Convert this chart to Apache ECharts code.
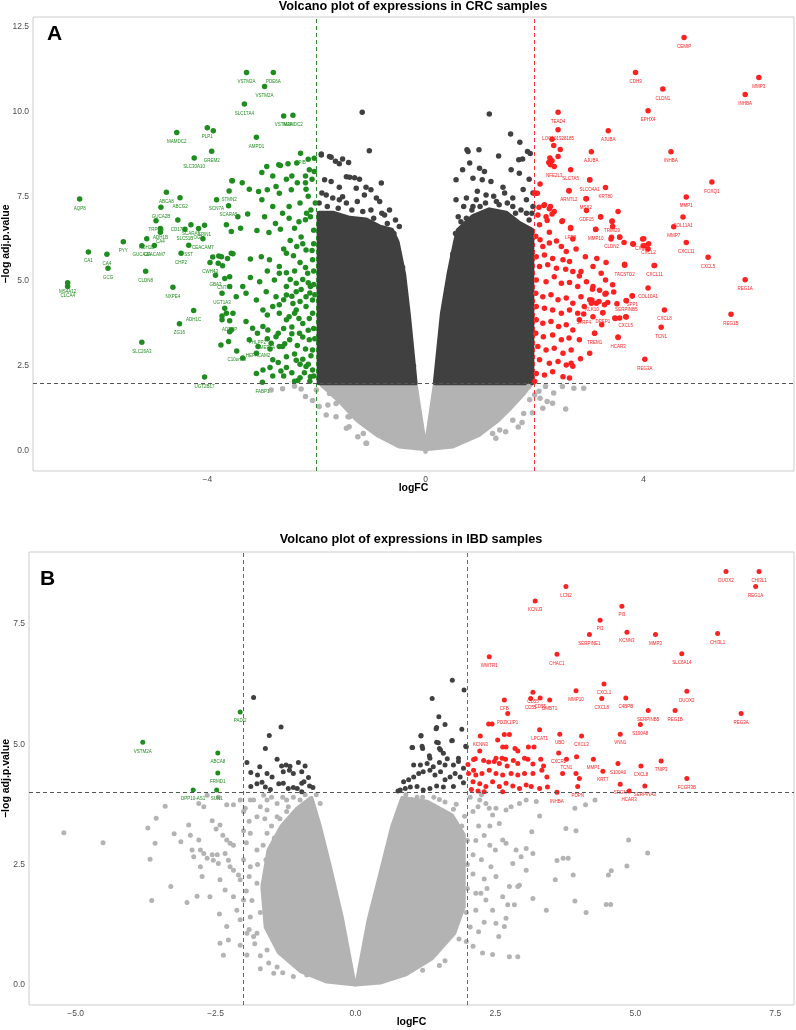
<!DOCTYPE html>
<html>
<head>
<meta charset="utf-8">
<script src="https://cdn.jsdelivr.net/npm/echarts@6/dist/echarts.min.js"></script>
<style>
  html, body { margin: 0; padding: 0; background: #fff; }
  #main { width: 796px; height: 1030px; }
</style>
</head>
<body>
<div id="main"></div>
<script>
// volcano plots, CRC (top) and IBD (bottom)
var FONT = '"Liberation Sans", Arial, sans-serif';

var xTicksA = [-4, 0, 4];
var yTicksA = [0, 2.5, 5, 7.5, 10, 12.5];
var xTicksB = [-5, -2.5, 0, 2.5, 5, 7.5];
var yTicksB = [0, 2.5, 5, 7.5];
var fcCut = 2;
var pCutA = 2;
var pCutB = 4;

// CRC: dense cores of the point cloud (outline of the solid area)
var crcNsArea = [[-1.9,1.95],[-0.19,1.95],[0.0,-0.02],[0.18,1.95],[1.92,1.95],[1.8,1.7],[1.57,1.3],[1.32,0.9],[0.97,0.47],[0.5,0.14],[0.0,0.06],[-0.48,0.14],[-0.88,0.47],[-1.24,0.9],[-1.53,1.4],[-1.78,1.78]];
var crcMidLeftArea = [[-1.95,2.0],[-1.95,7.0],[-1.7,7.0],[-1.39,6.85],[-1.09,6.8],[-0.85,6.6],[-0.62,6.5],[-0.52,6.15],[-0.4,5.2],[-0.31,3.95],[-0.19,2.0]];
var crcMidRightArea = [[0.18,2.0],[0.31,4.05],[0.43,5.2],[0.55,6.15],[0.6,6.5],[0.87,6.9],[1.17,7.1],[1.48,7.0],[1.72,6.7],[1.95,6.5],[1.95,2.0]];

var crcNsPts = [[-2.83,1.79],[-2.62,1.83],[-2.28,1.82],[-2.07,1.48],[-1.82,1.05],[-1.42,1.0],[-1.08,0.22],[-1.14,0.51],[-1.76,1.69],[-2.0,1.79],[-1.64,1.39],[-1.4,0.71],
  [2.9,1.84],[2.72,1.84],[2.57,1.23],[2.33,1.4],[2.23,1.45],[2.08,1.75],[2.0,1.65],[1.96,1.12],[1.77,0.83],[1.89,1.89],[2.51,1.89],[2.2,1.89],[1.47,0.56],[1.29,0.37],
  [-1.79,1.35],[-1.64,1.0],[-1.45,0.66],[-1.24,0.41],[-1.09,0.22],[-1.39,1.0],[1.66,1.5],[1.6,0.9],[1.36,0.61],[1.23,0.51],[1.78,1.8],[1.91,1.5],
  [-2.2,1.6],[-1.95,1.3],[-2.4,1.9],[2.1,1.55],[2.35,1.7],[2.15,1.25],[1.8,1.1],[1.7,0.7]];

var crcMidPts = [[-1.16,9.98],[-1.03,8.84],[-1.91,8.72],[-1.73,8.65],[-1.65,8.53],[-1.52,8.6],[-1.41,8.5],[-1.58,8.46],[-1.85,7.99],[-1.73,7.94],[-1.39,8.06],[-1.21,8.0],
  [-1.27,7.74],[-1.09,7.77],[-1.0,7.69],[-0.81,7.89],[-1.12,7.54],[-0.9,7.45],[-0.84,7.35],[-1.52,7.49],[-1.58,7.4],[-1.82,7.54],[-1.58,7.77],[-0.66,7.1],[-0.75,6.95],[-0.48,6.61],
  [-1.45,8.08],[-1.3,8.05],[-1.91,8.75],[-1.76,8.67],
  [1.17,9.93],[1.56,9.34],[1.73,9.09],[1.87,8.82],[1.92,8.76],[0.76,8.87],[0.78,8.82],[0.98,8.87],[1.34,8.69],[0.81,8.48],[0.68,8.28],[0.99,8.33],[1.08,8.23],[1.57,8.28],
  [1.72,8.18],[1.71,8.58],[1.78,8.6],[0.87,8.03],[1.04,7.99],[1.2,7.94],[1.42,7.77],[0.56,7.99],[0.56,7.4],[0.75,7.45],[0.93,7.4],[1.11,7.54],[1.3,7.35],[1.6,7.45],[1.85,7.4],
  [1.97,7.2],[1.6,7.2],[0.87,7.2],[1.79,7.7],
  [-1.95,7.3],[-1.8,7.2],[-1.6,7.15],[-1.35,7.1],[-1.15,7.05],[-0.95,6.85],[-0.7,6.7],[-0.58,6.4],[-0.5,5.9],[-0.42,5.4],[0.5,5.8],[0.55,6.4],[0.65,6.75],[0.85,7.1],
  [1.1,7.3],[1.35,7.25],[1.65,7.0],[1.9,6.8],[1.97,7.6],[1.9,8.0],[0.6,6.9],[-0.55,6.8],
  [-1.9,7.6],[-1.7,7.45],[-1.45,7.3],[-1.25,7.35],[-1.0,7.1],[-0.8,7.0],[-0.65,6.3],[-0.55,5.6],[-0.47,4.9],[-0.4,4.3],[-0.33,3.6],[-0.28,3.0],[-0.22,2.5],
  [0.28,3.0],[0.36,3.7],[0.45,4.5],[0.5,5.3],[0.62,6.1],[0.75,6.85],[1.0,7.2],[1.25,7.5],[1.5,7.3],[1.75,7.1],[1.85,7.0],[1.95,7.0],[1.45,7.6],[0.95,7.65],[0.7,7.2]];

var crcDown = [[-3.28,11.15,'VSTM2A'],[-2.79,11.15,'PDE6A'],[-2.95,10.74,'VSTM2A'],[-3.32,10.22,'SLC17A4'],[-2.6,9.87,'VSTM2A'],[-2.43,9.89,'MAMDC2'],
  [-4.56,9.38,'MAMDC2'],[-4.0,9.52,'PLP1'],[-3.89,9.43],[-3.1,9.24,'AMPD1'],[-3.92,8.83,'GREM2'],[-4.24,8.63,'SLC30A10'],
  [-6.34,7.42,'AQP8'],[-4.75,7.62,'ABCA8'],[-4.5,7.46,'ABCG2'],[-4.85,7.18,'GUCA2B'],[-4.54,6.8,'CD177'],[-3.83,7.4,'SCN7A'],[-3.6,7.66,'STMN2'],[-3.61,7.22,'SCARA5'],
  [-4.94,6.78,'TRPM6'],[-4.86,6.55,'ADH1B'],[-4.86,6.44,'CA4'],[-5.11,6.25,'ADH1B'],[-5.2,6.04,'GUCA2A'],[-4.97,6.05,'CEACAM7'],
  [-5.54,6.16,'PYY'],[-6.18,5.86,'CA1'],[-5.84,5.79,'CA4'],[-5.82,5.38,'GCG'],[-5.13,5.29,'CLDN8'],[-6.56,4.95,'MS4A12'],[-6.56,4.84,'CLCA4'],
  [-4.63,4.82,'NXPE4'],[-4.25,4.13,'ADH1C'],[-4.51,3.74,'ZG16'],[-5.2,3.2,'SLC26A3'],[-4.05,2.17,'UGT2B17'],
  [-4.41,6.53,'SLC51B'],[-4.3,6.66,'SCARA5'],[-4.16,6.55,'OGN'],[-4.05,6.65,'SPIN1'],[-4.34,6.06,'SST'],[-4.48,5.82,'CHP2'],[-4.08,6.25,'CEACAM7'],[-3.95,5.55,'CWH43'],[-3.85,5.17,'GBA3'],
  [-2.29,8.77,'SPIB'],[-2.04,8.62],[-2.91,8.38],[-2.69,8.43],[-2.52,8.46],[-2.36,8.48],[-2.13,8.28],[-2.04,8.23],[-2.15,8.59],[-2.66,8.41],
  [-3.54,7.96],[-3.36,7.9],[-3.23,7.71],[-3.06,7.64],[-2.9,7.69],[-2.74,7.79],[-2.68,7.59],[-2.46,7.69],[-2.19,7.71],
  [-3.44,6.9],[-3.26,6.98],[-3.39,6.56],[-3.56,6.46],[-3.65,6.66],[-3.09,6.49],[-2.87,6.43],[-2.66,6.53],[-2.4,6.56],[-2.2,6.81],[-2.11,6.9],
  [-3.9,5.71],[-3.79,5.74],[-3.72,5.45],[-3.56,5.82],[-3.21,5.65],[-3.01,5.72],[-2.86,5.63],[-2.68,5.43],[-2.55,5.82],[-2.36,6.02],[-2.19,5.92],[-2.07,5.63],
  [-3.59,5.13],[-3.35,4.84],[-3.21,5.11],[-3.04,4.98],[-2.77,5.03],[-2.68,5.23],[-2.55,4.84],[-2.37,4.94],[-2.16,5.23],[-2.11,4.84],
  [-3.47,4.54],[-3.29,4.64],[-3.1,4.44],[-2.92,4.69],[-2.74,4.54],[-2.55,4.59],[-2.37,4.69],[-2.19,4.54],[-2.07,4.44],[-2.43,4.34],[-2.68,4.3],
  [-3.68,4.2],[-3.53,4.05],[-3.73,3.86],[-3.29,3.81],[-2.98,4.15],[-2.8,4.25],[-2.68,4.05],[-2.55,3.86],[-2.37,4.15],[-2.19,4.25],[-2.07,4.05],
  [-3.59,3.51],[-3.23,3.27],[-2.89,3.56],[-2.74,3.36],[-2.49,3.27],[-2.31,3.46],[-2.13,3.27],[-2.07,2.97],
  [-3.61,3.22],[-3.35,2.73],[-3.1,2.87],[-2.68,3.07],[-2.55,2.77],[-2.37,2.67],[-2.19,2.48],[-2.07,2.38],
  [-2.99,2.02,'FABP1'],[-2.34,2.07],[-2.11,2.18],[-2.12,2.05],
  [-2.3,7.3],[-2.15,7.5],[-2.5,7.2],[-2.62,7.0],[-2.28,6.3],[-2.48,6.2],[-2.6,5.95],[-2.2,5.4],[-2.4,5.3],[-2.55,5.25],[-2.25,5.05],[-2.9,5.3],[-2.3,4.4],[-2.45,4.55],
  [-2.12,4.65],[-2.6,4.45],[-2.9,4.0],[-2.45,3.65],[-2.25,3.75],[-2.6,3.6],[-2.15,3.55],[-2.35,3.1],[-2.2,3.0],[-2.58,3.15],[-2.85,3.0],[-2.4,2.85],[-2.25,2.7],[-2.55,2.45],
  [-2.15,2.55],[-2.45,2.3],[-2.3,2.15],[-2.7,2.6],[-2.05,3.6],[-2.05,4.9],[-2.05,6.1],[-2.1,7.1],[-2.35,7.9],[-2.55,8.0],[-2.08,8.0],[-2.2,8.1],
  [-3.55,7.96],[-3.8,5.53],[-3.74,5.72],[-3.63,5.67],[-3.53,5.81],[-3.68,5.08,'CNTN1'],[-3.59,4.84],[-3.73,4.64,'UGT1A3'],[-3.65,4.05],[-3.73,3.97],[-3.59,3.83,'ADTRP'],
  [-3.56,3.56],[-3.75,3.12],[-3.46,2.94,'C10orf99'],[-3.08,3.46,'PHLPP2'],[-2.9,3.3,'MEP1A'],[-2.83,3.17],[-2.7,3.46],[-2.62,3.07],[-2.98,3.66],[-3.17,3.61],
  [-3.07,3.07,'HEPACAM2'],[-2.8,2.68],[-3.1,2.28],[-2.98,2.38],
  [-2.02,7.3],[-2.18,7.0],[-2.32,6.75],[-2.05,6.5],[-2.25,6.1],[-2.42,5.75],[-2.08,5.9],[-2.3,5.55],[-2.05,5.3],[-2.48,5.05],[-2.15,4.95],[-2.28,4.75],[-2.03,4.6],
  [-2.4,4.05],[-2.13,3.9],[-2.32,3.9],[-2.5,3.95],[-2.03,3.3],[-2.25,3.35],[-2.45,3.45],[-2.1,2.8],[-2.3,2.55],[-2.05,2.2],[-2.22,2.3],[-2.6,2.2],[-2.4,2.05],[-2.8,2.2],
  [-2.65,2.35],[-2.85,2.45],[-2.5,6.85],[-2.75,6.7],[-2.95,6.9],[-2.8,7.2],[-3.0,7.4],[-2.2,7.9],[-2.45,8.1],[-2.8,8.1],[-3.0,8.2]];

var crcUp = [[4.74,12.18,'CEMIP'],[3.85,11.15,'CDH3'],[6.11,11.0,'MMP3'],[4.35,10.66,'CLDN1'],[5.86,10.5,'INHBA'],[4.08,10.02,'EPHX4'],[2.43,9.98,'TEAD4'],
  [2.43,9.46,'LOC101928185'],[3.35,9.43,'AJUBA'],[2.32,9.18],[2.35,9.0],[2.47,8.88],[3.04,8.81,'AJUBA'],[4.5,8.81,'INHBA'],[2.28,8.63],[2.32,8.55],[2.26,8.5],[2.43,8.67],
  [2.29,8.43],[2.36,8.38,'NFE2L3'],[2.66,8.28,'SLC7A5'],[3.01,7.98,'SLCO4A1'],[2.63,7.66,'ARNTL2'],[3.3,7.76,'KRT80'],[5.25,7.92,'FOXQ1'],[2.94,7.43,'MSX2'],
  [4.78,7.48,'MMP1'],[2.0,7.59],[2.05,7.59],[2.95,7.08,'GDF15'],[3.53,7.05],[3.21,6.89],[3.42,6.77,'TRIM29'],[4.72,6.89,'COL11A1'],[4.55,6.6,'MMP7'],
  [3.12,6.52,'MMP10'],[2.66,6.55,'LRP8'],[2.5,6.76],[2.23,6.79],[2.32,6.98],[2.27,7.13],[2.17,7.23],[2.08,7.18],[3.41,6.29,'CLDN2'],[3.56,6.29],[3.98,6.24,'CXCL3'],
  [4.09,6.1,'CXCL2'],[3.99,6.04],[3.81,6.09],[3.64,6.14],[4.78,6.14,'CXCL11'],[5.18,5.7,'CXCL5'],[4.2,5.46,'CXCL11'],[3.65,5.47,'TACSTD2'],[5.86,5.04,'REG1A'],
  [4.08,4.8,'COL10A1'],[3.79,4.57,'SPP1'],[3.68,4.42,'SERPINB5'],[4.38,4.15,'CXCL8'],[4.32,3.64,'TCN1'],[5.6,4.02,'REG1B'],[4.02,2.7,'REG3A'],[3.53,3.35,'HCAR3'],
  [3.1,3.46,'TREM1'],[3.25,4.07,'DPEP1'],[2.9,4.03,'SFRP4'],[3.48,3.9],[3.67,3.95,'CXCL5'],[3.51,4.33],[3.34,4.37],[3.05,4.44,'KLK10'],[3.18,4.4],[3.29,4.62],[3.45,4.68],
  [2.1,7.86],[2.02,7.59],[2.18,7.25],[2.29,7.2],[2.36,7.05],[2.06,6.95],[2.21,6.9],[2.09,6.66],[2.27,6.44],[2.51,6.78],[2.66,6.58],[2.02,6.32],[2.1,6.22],[2.15,6.02],
  [2.27,6.12],[2.4,6.18],[2.49,6.02],[2.7,6.24],[2.58,5.87],[2.76,5.95],[2.03,5.72],[2.18,5.77],[2.33,5.67],[2.52,5.63],[2.64,5.58],[2.09,5.43],[2.24,5.48],[2.4,5.38],
  [2.57,5.35],[2.7,5.28],[2.85,5.28],[2.03,5.03],[2.21,4.98],[2.36,5.13],[2.49,4.94],[2.64,4.96],[2.79,4.84],[2.95,4.98],[3.07,4.84],[3.19,4.73],[3.31,4.64],[2.02,4.64],
  [2.15,4.54],[2.3,4.6],[2.43,4.45],[2.58,4.5],[2.7,4.35],[2.85,4.54],[3.01,4.45],[3.13,4.35],[3.28,4.3],[2.03,4.25],[2.18,4.2],[2.33,4.15],[2.49,4.05],[2.64,4.15],
  [2.79,4.05],[2.91,4.25],[2.03,3.86],[2.15,3.76],[2.3,3.81],[2.44,3.66],[2.58,3.71],[2.7,3.56],[2.02,3.46],[2.16,3.36],[2.33,3.41],[2.49,3.27],[2.63,3.32],[2.06,3.07],
  [2.21,2.97],[2.36,3.02],[2.52,2.87],[2.67,2.97],[2.09,2.68],[2.27,2.58],[2.43,2.63],[2.58,2.53],[2.7,2.49],[2.03,2.28],[2.18,2.23],[2.33,2.33],[2.52,2.18],[2.64,2.14],
  [2.0,2.04],[3.01,7.99],[2.63,7.67],[2.95,7.43],[3.21,6.9],[3.42,6.76],[3.43,6.61],[3.12,6.53],[3.56,6.3],[3.4,6.24],[3.8,6.1],[4.0,6.25],[4.01,6.04],[4.08,5.95],
  [3.65,5.5],[4.19,5.46],[3.31,5.55],[3.14,5.67],[2.93,5.72],[3.07,5.43],[3.22,5.23],[2.82,5.15],[3.3,5.03],[3.43,4.89],[3.06,4.76],[3.3,4.62],[3.68,4.43],[3.79,4.56],
  [3.04,4.35],[3.25,4.07],[3.56,3.91],[3.68,3.94],[3.47,3.91],[3.1,3.46],[3.53,3.34],[3.23,3.71],[3.07,3.95],[2.82,3.86],[2.82,3.27],[3.01,2.87],[2.84,2.71],[2.67,2.58]];

// IBD: the non-significant core, left and right lobes either side of the V
var ibdNsLeftArea = [[-0.79,3.88],[-0.64,3.29],[-0.46,2.45],[-0.25,1.41],[-0.04,0.12],[0.0,0.01],[-0.51,0.07],[-0.97,0.28],[-1.37,0.68],[-1.6,1.2],[-1.66,2.04],
  [-1.55,2.8],[-1.32,3.29],[-1.04,3.66]];
var ibdNsRightArea = [[0.04,0.12],[0.24,1.35],[0.48,2.45],[0.66,3.29],[0.84,3.88],[1.28,3.8],[1.72,3.52],[1.93,3.12],[1.93,1.62],[1.76,1.07],[1.36,0.55],[0.9,0.22],
  [0.44,0.05],[0.0,0.01]];

var ibdNsPts = [[-5.21,3.16],[-4.51,2.95],[-3.67,2.61],[-3.64,1.75],[-3.3,2.04],[-3.71,3.26],[-3.56,3.46],[-3.58,2.94],[-3.4,3.71],[-3.24,3.14],[-3.12,2.97],[-3.01,1.71],
  [-2.83,1.84],[-2.6,1.83],[-2.98,3.32],[-2.95,3.11],[-2.92,2.8],[-2.89,2.66],[-2.8,3.01],[-2.77,2.45],[-2.74,2.25],[-2.77,2.8],[-2.71,2.73],[-2.65,2.63],[-2.56,2.7],
  [-2.54,2.59],[-2.47,2.7],[-2.45,2.52],[-2.56,3.41],[-2.49,3.24],[-2.42,3.32],[-2.37,3.11],[-2.3,3.01],[-2.24,2.94],[-2.18,2.9],[-2.33,2.73],[-2.27,2.59],[-2.24,2.45],
  [-2.18,2.38],[-2.09,2.28],[-2.06,2.18],[-2.42,2.18],[-2.33,1.97],[-2.18,1.83],[-2.12,1.55],[-2.43,1.47],[-2.3,1.21],[-2.27,0.93],[-2.42,0.86],[-2.36,0.61],[-2.06,1.35],
  [-1.94,1.07],[-1.82,1.0],[-2.06,0.82],[-1.94,0.62],[-1.7,0.33],[-1.46,0.24],[-1.11,0.17],[-0.87,0.2],
  [-2.8,3.77],[-2.71,3.7],[-2.65,3.94],[-2.45,3.9],[-2.3,3.74],[-2.18,3.74],[-2.06,3.84],[-1.97,3.67],[-1.82,3.84],[-1.64,3.94],[-1.58,3.63],[-1.4,3.77],[-1.23,3.84],
  [-1.11,3.9],[-0.99,3.84],[-0.81,3.77],[-0.63,3.77],
  [-1.88,3.84],[-1.76,3.49],[-1.58,3.84],[-1.4,3.49],[-1.23,3.15],[-1.88,3.15],[-1.76,2.8],[-1.58,3.15],[-1.4,2.8],[-1.88,2.45],[-1.76,2.11],[-2.0,1.76],[-1.88,1.41],
  [-1.76,1.07],[-1.58,0.72],[-1.4,0.37],[-0.99,3.49],[-1.23,3.6],[-1.1,3.3],
  [-2.0,3.6],[-1.9,3.4],[-2.0,3.2],[-1.95,2.95],[-2.0,2.6],[-1.9,2.25],[-1.95,1.95],[-1.85,1.75],[-1.9,1.15],[-1.8,0.85],[-1.7,0.6],[-1.55,0.45],[-1.3,0.25],[-1.7,1.5],
  [-1.75,2.5],[-1.65,2.9],[-1.5,3.3],[-1.35,3.45],[-1.7,3.7],[-1.5,3.9],[-1.3,3.9],[-0.9,3.95],[-0.7,3.95],[-1.2,3.7],[-1.45,3.05],[-1.6,2.6],[-1.62,3.45],
  [0.9,3.95],[1.0,3.85],[1.2,3.9],[1.4,3.9],[1.6,3.8],[1.75,3.65],[1.9,3.3],[2.0,3.0],[2.0,2.5],[2.0,2.0],[1.98,1.5],[1.85,0.95],[1.5,0.4],[1.2,0.3],
  [4.88,3.01],[5.22,2.74],[4.85,2.47],[4.57,2.37],[4.52,2.28],[4.48,1.67],[4.56,1.67],[4.12,1.5],[3.92,1.74],[3.57,2.18],[3.71,2.63],[3.8,2.63],[3.6,2.58],[3.89,2.28],
  [3.76,3.25],[3.94,3.2],[4.11,3.74],[4.28,3.84],[3.92,3.67],[3.41,1.55],[3.17,1.79],[2.9,2.04],[2.93,2.07],[2.9,0.58],[2.75,0.58],[2.56,1.0],[2.45,0.63],[2.27,0.66],
  [2.84,1.66],[2.72,1.66],[2.69,1.38],[2.66,1.21],[2.51,1.28],[2.45,1.55],[2.33,1.76],[2.24,1.9],[2.15,1.55],
  [3.29,3.51],[3.15,3.18],[3.05,2.83],[2.96,2.66],[2.87,2.8],[2.81,2.52],[2.69,2.94],[2.63,3.01],[2.57,3.35],[2.45,3.53],[2.39,3.67],[2.33,3.77],[2.22,3.84],[2.19,3.7],
  [2.51,3.67],[2.69,3.63],[2.78,3.7],[2.93,3.77],[3.05,3.84],[3.23,3.81],[3.17,2.73],[3.05,2.38],[2.75,2.04],[2.63,1.83],[2.51,2.25],[2.42,2.45],
  [2.1,3.6],[2.2,3.3],[2.15,3.0],[2.3,3.1],[2.1,2.7],[2.25,2.6],[2.1,2.3],[2.3,2.2],[2.15,1.9],[2.4,2.9],[2.35,2.0],[2.05,1.2],[2.2,1.1],[2.1,0.8],[2.3,1.3],[2.05,3.9],
  [2.25,3.95],[2.4,3.3],[2.5,2.8],[1.95,3.5],[1.8,3.75],[1.5,3.85],[1.1,3.9],[1.98,0.9],[1.6,0.5]];

var ibdMidPts = [[-1.82,5.97],[-1.33,5.36],[-1.54,5.18],[-1.61,4.91],[-1.94,4.62],[-1.4,4.69],[-1.87,4.41],[-1.71,4.53],[-1.75,4.36],[-1.58,4.39],[-1.49,4.32],[-1.32,4.55],
  [-1.24,4.57],[-1.17,4.54],[-1.02,4.62],[-0.9,4.55],[-0.84,4.31],[-0.96,4.43],[-1.11,4.39],[-1.18,4.46],[-1.29,4.43],[-1.87,4.12],[-1.76,4.18],[-1.67,4.21],[-1.61,4.11],
  [-1.52,4.06],[-1.37,4.18],[-1.29,4.19],[-1.2,4.08],[-1.11,4.1],[-1.04,4.08],[-0.96,4.19],[-0.92,4.22],[-0.82,4.13],[-0.76,4.1],[-0.96,4.01],
  [1.73,6.33],[1.94,6.13],[1.37,5.95],[1.49,5.57],[1.6,5.41],[1.44,5.32],[1.9,5.31],[1.17,5.17],[1.73,5.08],[1.45,5.04],[1.01,4.93],[1.2,4.91],[1.5,4.91],[1.98,4.95],
  [1.32,4.76],[1.57,4.81],[1.64,4.7],[1.84,4.71],[1.45,5.35],[1.72,5.07],[1.97,4.96],[1.02,4.93],[1.19,4.96],[1.48,5.03],[1.52,4.88],[1.33,4.71],[1.04,4.57],[1.16,4.57],
  [1.28,4.6],[1.39,4.53],[1.5,4.62],[1.6,4.57],[1.75,4.57],[1.84,4.64],[1.93,4.5],[0.86,4.22],[0.95,4.26],[1.04,4.32],[1.13,4.39],[1.21,4.43],[1.33,4.46],[1.42,4.36],
  [1.52,4.43],[1.6,4.26],[1.69,4.32],[1.78,4.39],[1.87,4.32],[1.93,4.2],[0.8,4.05],[0.89,4.08],[0.98,4.11],[1.1,4.12],[1.21,4.05],[1.33,4.08],[1.45,4.13],[1.57,4.11],
  [1.75,4.12],[1.17,5.18],[0.76,4.03]];

var ibdDown = [[-3.8,5.04,'VSTM2A'],[-2.06,5.67,'PADI2'],[-2.46,4.82,'ABCA8'],[-2.46,4.4,'FRMD1'],[-2.9,4.05,'DPP10-AS1'],[-2.48,4.05,'SUN1']];

var ibdUp = [[6.62,8.59,'DUOX2'],[7.21,8.59,'CHI3L1'],[7.15,8.28,'REG1A'],[3.76,8.28,'LCN2'],[3.21,7.98,'KCNJ3'],[4.76,7.87,'PI3'],[4.37,7.58,'PI3'],
  [4.18,7.28,'SERPINE1'],[4.85,7.33,'KCNN3'],[5.36,7.28,'MMP3'],[6.47,7.3,'CHI3L1'],[5.83,6.88,'SLC6A14'],[2.39,6.82,'WWTR1'],[3.6,6.87,'CHAC1'],[4.44,6.25,'CXCL1'],
  [3.94,6.11,'MMP10'],[4.4,5.95,'CXCL8'],[4.83,5.96,'C4BPB'],[5.92,6.1,'DUOX2'],[5.71,5.7,'REG1B'],[5.23,5.7,'SERPINB5'],[5.09,5.41,'S100A8'],[6.89,5.64,'REG3A'],
  [4.73,5.21,'VNN1'],[4.04,5.17,'CXCL3'],[3.17,6.08,'CD55'],[3.13,5.95,'CD55'],[3.3,5.96,'CD55'],[3.47,5.92,'DMBT1'],[2.66,5.92,'CFB'],[2.72,5.64,'PDZK1IP1'],
  [2.38,5.42],[2.44,5.42],[2.66,5.2],[2.75,5.2],[2.54,5.09],[2.23,5.17,'KCNN3'],[3.29,5.3,'LPCAT1'],[3.65,5.21,'UBD'],[3.19,4.94],[3.09,4.94],[3.63,4.82,'CXCR2'],
  [2.22,4.86],[2.14,4.7],[2.11,4.68],[2.29,4.66],[2.38,4.63],[2.48,4.64],[2.51,4.71],[2.62,4.71],[2.68,4.69],[2.57,4.6],[2.71,4.55],[2.82,4.66],[2.9,4.6],[3.02,4.71],
  [3.08,4.69],[3.17,4.59],[3.31,4.69],[3.36,4.55],[3.17,4.39],[3.33,4.46],[3.42,4.32],[3.77,4.69,'TCN1'],[3.95,4.74],[4.25,4.69,'MMP1'],[4.69,4.6,'S100A9'],
  [5.1,4.55,'CXCL8'],[5.46,4.65,'TNIP3'],[3.7,4.39],[3.94,4.39],[4.0,4.29],[3.97,4.12,'PDPN'],[4.42,4.44,'KRT7'],[4.73,4.17,'SRGN'],[5.17,4.13,'SERPINA3'],
  [5.92,4.29,'FCGR3B'],[4.89,4.03,'HCAR3'],[3.6,4.0,'INHBA'],[2.01,4.58],[2.02,4.39],[2.11,4.46],[2.15,4.36],[2.26,4.39],[2.39,4.46],[2.51,4.39],[2.63,4.36],[2.78,4.39],
  [2.9,4.36],[3.02,4.39],[3.14,4.12],[3.29,4.08],[3.43,4.11],[2.1,4.22],[2.22,4.18],[2.33,4.12],[2.45,4.22],[2.57,4.12],[2.69,4.19],[2.81,4.13],[2.93,4.08],[3.05,4.15],
  [2.07,4.06],[2.19,4.03],[2.3,4.01],[2.63,4.01],[2.85,4.91],[2.9,4.86],[2.63,4.94],[2.69,4.94]];

function items(list) {
  return list.map(function (p) {
    return { value: [p[0], p[1]], name: p[2] || '', label: { show: !!p[2] } };
  });
}

function area(gi, pts, color, w) {
  return {
    type: 'custom', xAxisIndex: gi, yAxisIndex: gi, silent: true,
    data: [[0, 0]],
    renderItem: function (params, api) {
      return {
        type: 'polygon',
        shape: { points: pts.map(function (p) { return api.coord(p); }) },
        style: { fill: color, stroke: color, lineWidth: w, lineJoin: 'round' }
      };
    }
  };
}

function dots(gi, list, color, size, extra) {
  var s = {
    type: 'scatter', xAxisIndex: gi, yAxisIndex: gi, silent: true,
    data: items(list), symbolSize: size,
    itemStyle: { color: color, opacity: 1 },
    label: { position: 'bottom', distance: 4, fontSize: 4.5, color: color, fontFamily: FONT, formatter: '{b}' }
  };
  for (var k in extra) s[k] = extra[k];
  return s;
}

function guides(pCut) {
  return {
    silent: true, symbol: 'none', label: { show: false },
    lineStyle: { type: [4, 3], width: 1 },
    data: [
      { xAxis: -fcCut, lineStyle: { color: '#2e8b2e', type: [4, 3], width: 1 } },
      { xAxis: fcCut, lineStyle: { color: '#ff3030', type: [4, 3], width: 1 } },
      { yAxis: pCut, lineStyle: { color: '#555555', type: [4, 3], width: 1 } }
    ]
  };
}

function fmt(d) {
  return function (v) { return (v < 0 ? '\u2212' : '') + Math.abs(v).toFixed(d); };
}

function xAx(gi, min, max, ticks, d) {
  return {
    gridIndex: gi, type: 'value', min: min, max: max,
    axisLine: { show: false }, axisTick: { show: false }, splitLine: { show: false },
    axisLabel: { customValues: ticks, formatter: fmt(d), fontSize: 8.5, color: '#4d4d4d', fontFamily: FONT, margin: 4 },
    name: 'logFC', nameLocation: 'middle', nameGap: 12, nameMoveOverlap: false,
    nameTextStyle: { fontWeight: 'bold', fontSize: 10.5, color: '#000', fontFamily: FONT }
  };
}

function yAx(gi, min, max, ticks, gap) {
  return {
    gridIndex: gi, type: 'value', min: min, max: max,
    axisLine: { show: false }, axisTick: { show: false }, splitLine: { show: false },
    axisLabel: { customValues: ticks, formatter: fmt(1), fontSize: 8.5, color: '#4d4d4d', fontFamily: FONT, margin: 4 },
    name: '\u2212log adj.p.value', nameLocation: 'middle', nameGap: gap, nameMoveOverlap: false,
    nameTextStyle: { fontWeight: 'bold', fontSize: 10.5, color: '#000', fontFamily: FONT }
  };
}

var chart = echarts.init(document.getElementById('main'), null, { renderer: 'canvas' });

var option = {
  animation: false,
  backgroundColor: '#fff',
  title: [
    { text: 'Volcano plot of expressions in CRC samples', left: 413, top: 0, textAlign: 'center', padding: 0,
      textStyle: { fontSize: 12.7, fontWeight: 'bold', color: '#000', fontFamily: FONT } },
    { text: 'Volcano plot of expressions in IBD samples', left: 411, top: 533, textAlign: 'center', padding: 0,
      textStyle: { fontSize: 12.7, fontWeight: 'bold', color: '#000', fontFamily: FONT } }
  ],
  graphic: [
    { type: 'text', left: 47, top: 24, style: { text: 'A', font: 'bold 21px ' + FONT, fill: '#000' } },
    { type: 'text', left: 40, top: 569, style: { text: 'B', font: 'bold 21px ' + FONT, fill: '#000' } }
  ],
  grid: [
    { left: 33, top: 17, width: 761, height: 454, show: true, borderColor: '#cccccc', borderWidth: 1,
      containLabel: false, outerBoundsMode: 'none' },
    { left: 29, top: 552, width: 765, height: 453, show: true, borderColor: '#cccccc', borderWidth: 1,
      containLabel: false, outerBoundsMode: 'none' }
  ],
  xAxis: [xAx(0, -7.195, 6.755, xTicksA, 0), xAx(1, -5.833, 7.835, xTicksB, 1)],
  yAxis: [yAx(0, -0.598, 12.786, yTicksA, 21), yAx(1, -0.422, 8.997, yTicksB, 17.5)],
  series: [
    area(0, crcNsArea, '#b3b3b3', 5),
    dots(0, crcNsPts, '#b3b3b3', 5.5),
    area(0, crcMidLeftArea, '#404040', 5),
    area(0, crcMidRightArea, '#404040', 5),
    dots(0, crcMidPts, '#404040', 5.5),
    dots(0, crcDown, '#1e8c1e', 5.5),
    dots(0, crcUp, '#ff2020', 5.5, { markLine: guides(pCutA) }),

    area(1, ibdNsLeftArea, '#b3b3b3', 4.5),
    area(1, ibdNsRightArea, '#b3b3b3', 4.5),
    dots(1, ibdNsPts, '#b3b3b3', 5),
    dots(1, ibdMidPts, '#404040', 5),
    dots(1, ibdDown, '#1e8c1e', 5),
    dots(1, ibdUp, '#ff2020', 5, { markLine: guides(pCutB) })
  ]
};

chart.setOption(option);
</script>
</body>
</html>
